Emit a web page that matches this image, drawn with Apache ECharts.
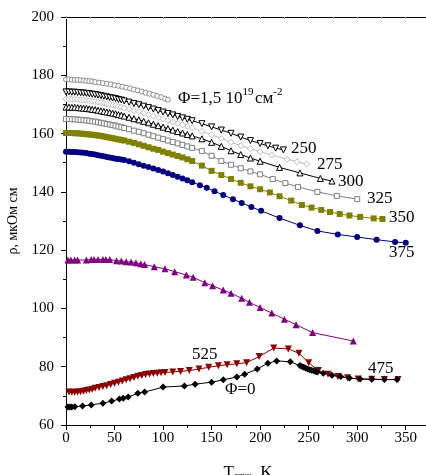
<!DOCTYPE html>
<html>
<head>
<meta charset="utf-8">
<script src="https://cdn.jsdelivr.net/npm/echarts@6/dist/echarts.min.js"></script>
<style>
html, body { margin: 0; padding: 0; background: #fff; }
#chart { width: 426px; height: 475px; }
</style>
</head>
<body>
<div id="chart"></div>
<script>
// annealing temperature (K) and resistivity (µΩ·cm)
const tLow = [0,3,6,9,12,15,18,21,24,27,30,33,36,39,42,45,48,51,54,57,60,65,70,75,80,85,90,95,100,105,110,115,120,125,130,140,150,160,170,180,190,200];

const tIrr = [0,3,6,9,12,15,18,21,24,27,30,34,38,42,46,50,54,58,62,66,70,74,78,82,86,90,94,98,102,105];
const rIrr = [178.6,178.6,178.5,178.4,178.4,178.3,178.2,178.1,178.0,177.9,177.7,177.5,177.3,177.1,176.9,176.6,176.4,176.1,175.8,175.5,175.1,174.8,174.4,174.0,173.7,173.3,172.9,172.5,172.0,171.6];

const t250 = tLow.concat([208,216,224]);
const r250 = [174.3,174.3,174.2,174.2,174.1,174.0,173.9,173.8,173.7,173.5,173.4,173.2,173.0,172.8,172.6,172.4,172.2,172.0,171.7,171.5,171.2,
  170.8,170.3,169.9,169.4,168.9,168.4,167.9,167.4,166.9,166.4,165.9,165.4,164.9,164.4,
  163.4,162.3,161.2,160.1,158.8,157.6,156.6,155.8,155.0,154.4];

const t275 = tLow.concat([212,228,238,248]);
const r275 = [171.9,171.9,171.8,171.8,171.7,171.6,171.5,171.4,171.3,171.1,171.0,170.8,170.6,170.4,170.2,170.0,169.8,169.6,169.3,169.1,168.8,
  168.4,167.9,167.5,167.0,166.5,166.0,165.5,165.0,164.5,164.0,163.5,163.0,162.5,162.0,
  160.8,159.6,158.3,157.0,155.8,154.8,153.8,152.6,151.2,150.3,149.6];

const t300 = tLow.concat([220,241,262,274]);
const r300 = [169.1,169.1,169.0,169.0,168.9,168.8,168.7,168.6,168.5,168.3,168.2,168.0,167.8,167.6,167.4,167.2,167.0,166.8,166.5,166.3,166.0,
  165.6,165.1,164.7,164.2,163.7,163.2,162.7,162.2,161.7,161.2,160.7,160.2,159.7,159.2,
  158.2,157.0,155.6,154.1,152.8,151.6,150.5,148.4,146.5,144.6,143.7];

const t325 = tLow.concat([213,226,239,259,279,300]);
const r325 = [165.0,165.0,164.9,164.9,164.8,164.7,164.6,164.5,164.4,164.2,164.1,163.9,163.7,163.5,163.3,163.1,162.9,162.7,162.4,162.2,161.9,
  161.5,161.0,160.6,160.1,159.6,159.1,158.6,158.1,157.6,157.1,156.6,156.1,155.6,155.1,
  154.0,152.4,150.6,149.3,148.1,147.0,146.0,144.4,143.0,141.7,140.0,138.6,137.5];

const t350 = tLow.concat([210,220,232,243,253,263,272,282,292,303,317,326]);
const r350 = [160.2,160.2,160.2,160.1,160.1,160.0,159.9,159.8,159.7,159.6,159.5,159.3,159.2,159.0,158.8,158.6,158.4,158.2,158.0,157.8,157.6,
  157.2,156.8,156.3,155.8,155.3,154.8,154.4,153.8,153.3,152.8,152.3,151.8,151.2,150.6,
  149.0,147.2,145.8,144.4,143.1,141.9,140.9,139.8,138.5,137.0,135.5,134.6,133.8,133.1,132.4,131.9,131.4,130.9,130.7];

const t375 = tLow.slice(0, 35).concat([138,145,153,162,172,181,191,201,220,241,259,280,300,320,339,350]);
const r375 = [153.8,153.8,153.7,153.7,153.6,153.5,153.4,153.3,153.1,153.0,152.8,152.6,152.4,152.2,152.0,151.8,151.6,151.4,151.3,151.1,150.9,
  150.5,150.0,149.5,149.0,148.5,148.0,147.5,147.0,146.4,145.8,145.2,144.6,144.0,143.3,
  142.3,141.4,140.2,138.9,137.5,136.2,134.8,133.5,131.0,128.5,126.6,125.4,124.5,123.6,122.8,122.5];

const t475 = [2,5,9,12,21,26,29,33,38,41,45,52,57,62,67,72,77,81,91,102,112,124,131,143,151,162,170,181,189,200,212,225,237,254,296];
const r475 = [116.6,116.6,116.6,116.6,116.6,116.8,116.8,116.8,116.8,116.8,116.8,116.4,116.3,116.0,115.9,115.7,115.3,115.1,
  114.3,113.6,112.6,111.5,110.7,108.8,107.8,106.3,105.2,103.5,102.1,100.3,98.4,96.3,94.4,91.7,88.8];

const t525 = [3,6,9,12,15,18,21,24,27,30,34,38,42,46,50,54,58,62,66,70,74,78,82,86,90,94,98,102,
  110,118,127,137,147,157,166,176,186,199,214,229,240,250,260,270,280,290,301,315,328,342];
const r525 = [71.3,71.2,71.2,71.3,71.4,71.6,71.8,72.0,72.3,72.6,72.9,73.2,73.5,73.9,74.3,74.7,75.1,75.5,75.9,76.3,76.7,77.0,77.3,77.5,77.7,77.8,77.9,78.0,
  78.2,78.4,78.7,79.2,79.8,80.3,80.7,81.0,81.4,83.5,86.4,86.1,84.6,81.4,78.7,77.4,76.6,76.2,75.8,75.7,75.6,75.6];

const t0 = [2,4,6,9,17,26,38,47,55,59,64,74,81,100,122,133,150,162,176,184,197,208,217,231,241,243,245,247,249,251,253,255,257,259,265,274,283,292,303,315,328,341];
const r0 = [66.2,66.2,66.2,66.3,66.5,66.9,67.5,68.2,68.9,69.2,69.6,70.9,71.3,73.0,73.4,74.0,74.7,75.5,76.5,77.4,
  79.2,81.2,82.0,81.7,80.4,80.1,79.8,79.5,79.2,79.0,78.8,78.6,78.4,78.2,77.8,77.1,76.6,76.1,75.8,75.7,75.6,75.6];

const xTicks = [0, 50, 100, 150, 200, 250, 300, 350];
const curveLabels = ['250', '275', '300', '325', '350', '375', '475', '525', 'Φ=0'];

const serif = "'Liberation Serif', 'Times New Roman', serif";

function pairs(t, r) {
  return t.map((x, i) => [x, r[i]]);
}

function curve(t, r, color, symbol, size, open, rotate) {
  return {
    type: 'line',
    data: pairs(t, r),
    symbol: symbol,
    symbolSize: size,
    symbolRotate: rotate || 0,
    showAllSymbol: true,
    lineStyle: { color: color, width: 1 },
    itemStyle: open
      ? { color: '#fff', borderColor: color, borderWidth: 1 }
      : { color: color, borderWidth: 0 },
    emphasis: { disabled: true }
  };
}

const chart = echarts.init(document.getElementById('chart'));

// label positions (px) next to the curve ends
const labelPos = [[291,149],[317,165],[338,182],[367,199],[389,218],[389,253],[368,369],[192,355],[225,390]];

const graphics = curveLabels.map((txt, i) => ({
  type: 'text',
  x: labelPos[i][0],
  y: labelPos[i][1],
  style: { text: txt, fill: '#000', font: '17px ' + serif, verticalAlign: 'middle' }
}));
graphics.push({
  type: 'text',
  x: 178,
  y: 97,
  style: {
    text: '{b|Φ=1,5 10}{sup|19}{sp| }{b|см}{sup|-2}',
    fill: '#000',
    verticalAlign: 'middle',
    rich: {
      b: { fontSize: 17, fontFamily: serif, fill: '#000', lineHeight: 17, verticalAlign: 'bottom' },
      sup: { fontSize: 11, fontFamily: serif, fill: '#000', lineHeight: 11, verticalAlign: 'top' },
      sp: { fontSize: 6, fontFamily: serif, lineHeight: 21 }
    }
  }
});

chart.setOption({
  animation: false,
  backgroundColor: '#fff',
  grid: { left: 66, top: 17, right: -4, bottom: 50, outerBoundsMode: 'none', containLabel: false },
  xAxis: [{
    type: 'value',
    min: 0,
    max: 375,
    interval: 50,
    position: 'bottom',
    axisLine: { onZero: false, lineStyle: { color: '#000', width: 1 } },
    axisTick: { length: 5, lineStyle: { color: '#000' } },
    minorTick: { show: true, splitNumber: 2, length: 3, lineStyle: { color: '#000' } },
    splitLine: { show: false },
    axisLabel: {
      color: '#000', fontFamily: serif, fontSize: 15, margin: 6,
      formatter: v => (xTicks.indexOf(v) >= 0 ? String(v) : '')
    },
    name: 'T{sub|отж}, K',
    nameLocation: 'middle',
    nameGap: 38,
    nameTextStyle: {
      color: '#000', fontFamily: serif, fontSize: 17,
      rich: { sub: { fontSize: 11, fontFamily: serif, color: '#000', verticalAlign: 'bottom', padding: [8, 0, 0, 0] } }
    }
  }, {
    type: 'value',
    min: 0,
    max: 375,
    interval: 25,
    position: 'top',
    axisLine: { onZero: false, lineStyle: { color: '#000', width: 1 } },
    axisTick: { inside: true, length: 2, lineStyle: { color: '#aaa' } },
    axisLabel: { show: false },
    splitLine: { show: false }
  }],
  yAxis: {
    type: 'value',
    min: 60,
    max: 200,
    interval: 20,
    axisLine: { show: true, lineStyle: { color: '#000', width: 1 } },
    axisTick: { length: 5, lineStyle: { color: '#000' } },
    minorTick: { show: true, splitNumber: 2, length: 3, lineStyle: { color: '#000' } },
    splitLine: { show: false },
    axisLabel: { color: '#000', fontFamily: serif, fontSize: 15, margin: 12 },
    name: 'ρ, мкОм см',
    nameLocation: 'middle',
    nameRotate: 90,
    nameGap: 46,
    nameTextStyle: { color: '#000', fontFamily: serif, fontSize: 14 }
  },
  series: [
    curve(tIrr, rIrr, '#8c8c8c', 'circle', 5, true),
    curve(t250, r250, '#000', 'triangle', 6, true, 180),
    curve(t275, r275, '#bdbdbd', 'diamond', 6, true),
    curve(t300, r300, '#000', 'triangle', 6, true),
    curve(t325, r325, '#7f7f7f', 'rect', 5, true),
    curve(t350, r350, '#808000', 'rect', 6, false),
    curve(t375, r375, '#000080', 'circle', 6, false),
    curve(t475, r475, '#800080', 'triangle', 7, false),
    curve(t525, r525, '#8b0000', 'triangle', 7, false, 180),
    curve(t0, r0, '#000', 'diamond', 7, false)
  ],
  graphic: graphics
});
</script>
</body>
</html>
